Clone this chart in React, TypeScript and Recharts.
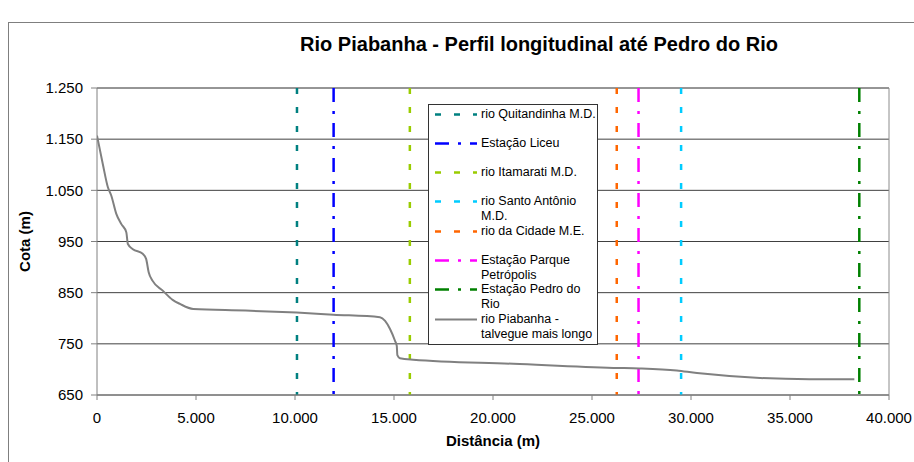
import React from "react";
import {
  LineChart,
  Line,
  XAxis,
  YAxis,
  CartesianGrid,
  Legend,
  ReferenceLine,
} from "recharts";

// perfil do talvegue (distância em m, cota em m)
const profileDistance = [
  0, 300, 550, 720, 975, 1230, 1480, 1560, 1810, 2310, 2480, 2610, 2810, 3320,
  3820, 4190, 4860, 7500, 10080, 11940, 14290, 14550, 14800, 15050, 15140,
  15170, 15300, 15970, 21030, 26080, 27400, 29280, 30300, 35980, 38250,
];
const profileElevation = [
  1157, 1100, 1056, 1040, 1004, 984, 968, 945, 935, 926, 916, 890, 873, 854,
  836, 828, 818, 815, 811, 807, 802, 795, 779, 756, 746, 728, 722, 719, 711,
  703, 702, 698, 693, 681, 681,
];

// afluentes e estações (linhas verticais)
const stationNames = [
  "rio Quitandinha M.D.",
  "Estação Liceu",
  "rio Itamarati M.D.",
  "rio Santo Antônio M.D.",
  "rio da Cidade M.E.",
  "Estação Parque Petrópolis",
  "Estação Pedro do Rio",
];
const stationDistance = [10100, 11950, 15800, 29500, 26250, 27350, 38500];
const stationColors = ["#008080", "#0000ff", "#99cc00", "#00ccff", "#ff6600", "#ff00ff", "#008000"];
const stationDashes = ["6 13", "14 9 3 9", "6 13", "6 13", "6 13", "14 9 3 9", "14 9 3 9"];

const profileName = "rio Piabanha - talvegue mais longo";
const profileColor = "#808080";

const xTicks = [0, 5000, 10000, 15000, 20000, 25000, 30000, 35000, 40000];
const yTicks = [650, 750, 850, 950, 1050, 1150, 1250];

const font = "'Liberation Sans', Arial, sans-serif";

const fmt = (v: number) => String(v).replace(/\B(?=(\d{3})+(?!\d))/g, ".");

const profileData = profileDistance.map((d, i) => ({ d, h: profileElevation[i] }));
const stationData = stationDistance.map((d) => [
  { d, h: 1250 },
  { d, h: 650 },
]);

const legendItems = [
  ...stationNames.map((name, i) => ({
    name,
    color: stationColors[i],
    dash: stationDashes[i],
    width: 2.5,
  })),
  { name: profileName, color: profileColor, dash: undefined, width: 2 },
];

const renderLegend = () => (
  <div
    style={{
      position: "relative",
      width: 170,
      height: 241,
      boxSizing: "border-box",
      background: "#fff",
      border: "1px solid #333",
      fontFamily: font,
      fontSize: 12.5,
      color: "#000",
      textAlign: "left",
    }}
  >
    {legendItems.map((item, i) => (
      <div
        key={item.name}
        style={{ position: "absolute", left: 0, top: 1.5 + i * 29.3, display: "flex" }}
      >
        <svg width={52} height={15} style={{ flex: "none" }}>
          <line
            x1={6}
            x2={48}
            y1={7.5}
            y2={7.5}
            stroke={item.color}
            strokeWidth={item.width}
            strokeDasharray={item.dash}
          />
        </svg>
        <div style={{ width: 119, lineHeight: "15px" }}>{item.name}</div>
      </div>
    ))}
  </div>
);

export default function App() {
  return (
    <div
      style={{
        position: "absolute",
        left: 0,
        top: 0,
        width: 914,
        height: 462,
        overflow: "hidden",
        background: "#fff",
        fontFamily: font,
      }}
    >
      <div
        style={{
          position: "absolute",
          left: 8,
          top: 22,
          width: 930,
          height: 480,
          border: "1px solid #7f7f7f",
        }}
      />
      <div
        style={{
          position: "absolute",
          left: 239,
          top: 32,
          width: 600,
          textAlign: "center",
          fontWeight: "bold",
          fontSize: 20,
          lineHeight: "24px",
          color: "#000",
        }}
      >
        Rio Piabanha - Perfil longitudinal até Pedro do Rio
      </div>
      <div style={{ position: "absolute", left: 0, top: 0 }}>
        <LineChart width={914} height={462} margin={{ top: 88, right: 25, left: 0, bottom: 0 }}>
          <CartesianGrid vertical={false} stroke="#404040" />
          <XAxis
            dataKey="d"
            type="number"
            domain={[0, 40000]}
            ticks={xTicks}
            allowDataOverflow
            height={67}
            tickFormatter={fmt}
            stroke="#808080"
            tickSize={5}
            tickMargin={12}
            tick={{ fill: "#000", fontSize: 15, fontFamily: font }}
            label={{
              value: "Distância (m)",
              position: "center",
              dy: 12,
              style: { fontWeight: "bold", fontSize: 15, fill: "#000", fontFamily: font },
            }}
          />
          <YAxis
            dataKey="h"
            type="number"
            domain={[650, 1250]}
            ticks={yTicks}
            allowDataOverflow
            width={97}
            tickFormatter={fmt}
            stroke="#808080"
            tickSize={6}
            tickMargin={8}
            tick={{ fill: "#000", fontSize: 15, fontFamily: font }}
            label={{
              value: "Cota (m)",
              angle: -90,
              position: "center",
              dx: -24,
              style: { fontWeight: "bold", fontSize: 15, fill: "#000", fontFamily: font, textAnchor: "middle" },
            }}
          />
          <ReferenceLine y={1250} stroke="#8c8c8c" />
          <ReferenceLine x={40000} stroke="#8c8c8c" />
          {stationNames.map((name, i) => (
            <Line
              key={name}
              data={stationData[i]}
              dataKey="h"
              name={name}
              stroke={stationColors[i]}
              strokeWidth={2.5}
              strokeDasharray={stationDashes[i]}
              dot={false}
              activeDot={false}
              isAnimationActive={false}
            />
          ))}
          <Line
            data={profileData}
            dataKey="h"
            name={profileName}
            type="monotone"
            stroke={profileColor}
            strokeWidth={2}
            dot={false}
            activeDot={false}
            isAnimationActive={false}
          />
          <Legend
            layout="vertical"
            align="center"
            verticalAlign="middle"
            content={renderLegend}
            wrapperStyle={{ left: 428, top: 104, width: 170, height: 241 }}
          />
        </LineChart>
      </div>
    </div>
  );
}
